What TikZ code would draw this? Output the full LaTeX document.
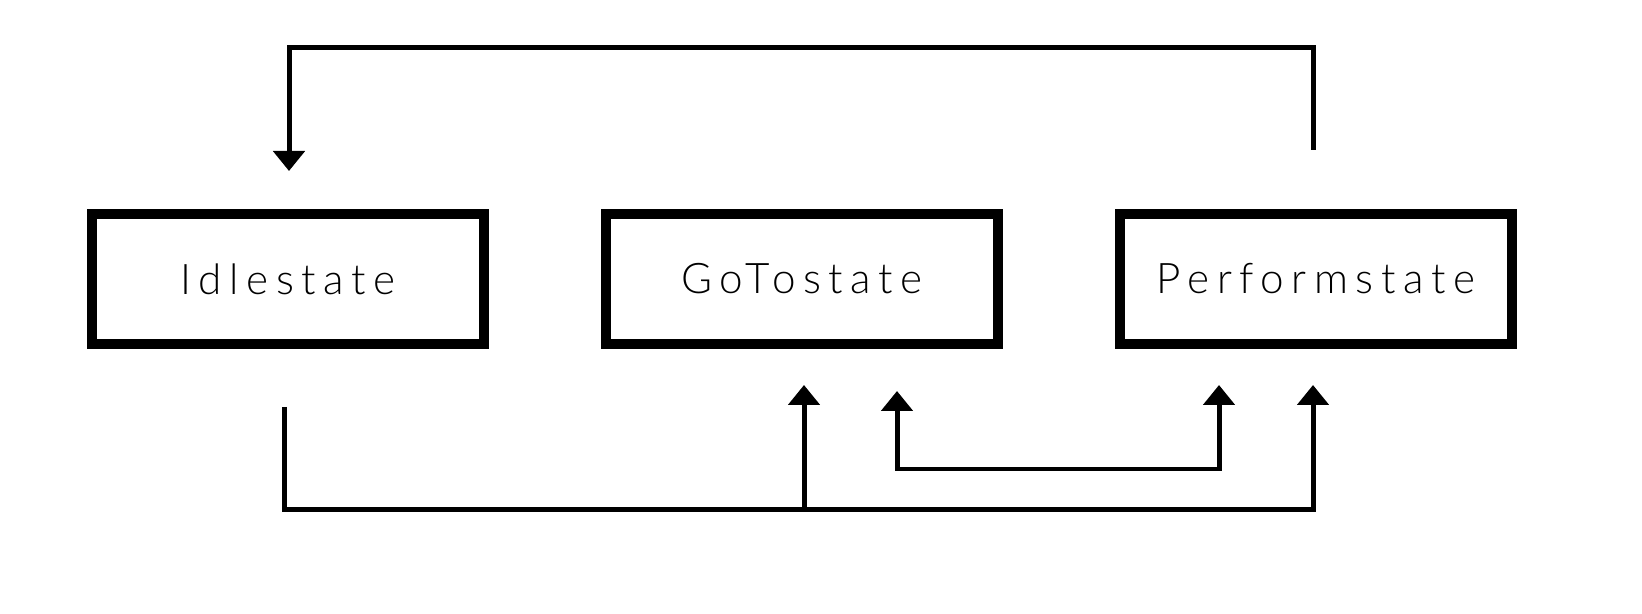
\documentclass[tikz,border=0pt]{standalone}
\usepackage{fontspec}
\setmainfont{Lato}[UprightFont=* Light]
\usetikzlibrary{arrows.meta}

\newfontfamily\statefont{Lato}[UprightFont=* Light,LetterSpace=18]

\tikzset{
  statebox/.style={draw, line width=0.2cm, minimum width=7.84cm, minimum height=2.62cm,
    inner sep=0pt, font=\statefont\fontsize{24}{29}\selectfont},
  wire/.style={line width=0.1cm},
  tip/.style={-{Triangle[width=0.62cm,length=0.4cm]}},
  tips/.style={{Triangle[width=0.62cm,length=0.4cm]}-{Triangle[width=0.62cm,length=0.4cm]}}
}

\begin{document}
\begin{tikzpicture}[x=0.02cm,y=-0.02cm]
\useasboundingbox (0,0) rectangle (1642,614);
\node[statebox] (idle) at (288,279) {Idlestate};
\node[statebox] (goto) at (802,279) {GoTostate};
\node[statebox] (perform) at (1316,279) {Performstate};
% back to idle
\coordinate (pfout) at (1313,150);
\coordinate (idin) at (289,171);
\draw[wire,tip] (pfout) -- (1313,48) -| (idin);
% from idle to the others
\coordinate (idout) at (284,407);
\coordinate (split) at (804,509);
\coordinate (gtin) at (804,385);
\coordinate (pfin) at (1313,385);
\draw[wire,tip] (idout) |- (split) -| (pfin);
\draw[wire,tip] (split) -- (gtin);
% between goto and perform
\coordinate (gtback) at (897,391);
\coordinate (pfin2) at (1219,385);
\draw[wire,tips] (gtback) -- (897,469) -| (pfin2);
\end{tikzpicture}
\end{document}
